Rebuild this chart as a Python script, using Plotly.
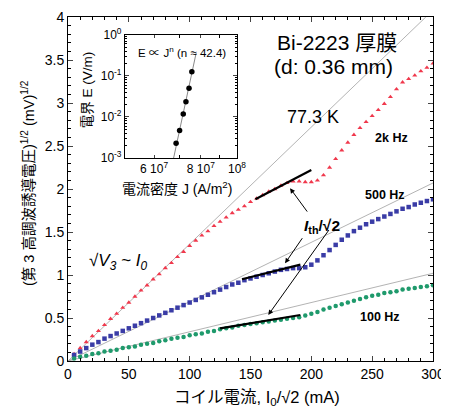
import plotly.graph_objects as go
import numpy as np

# ---------------- data ----------------
current_mA = list(range(5, 305, 5))  # I0/sqrt2 (mA)

v3_2kHz = [0.08, 0.15, 0.22, 0.29, 0.35, 0.42, 0.49, 0.55, 0.62, 0.68,
           0.75, 0.82, 0.88, 0.95, 1.01, 1.08, 1.14, 1.21, 1.27, 1.34,
           1.40, 1.46, 1.51, 1.57, 1.62, 1.67, 1.72, 1.76, 1.80, 1.85,
           1.89, 1.93, 1.97, 2.00, 2.04, 2.07, 2.09, 2.09, 2.08, 2.08,
           2.10, 2.16, 2.25, 2.35, 2.45, 2.54, 2.63, 2.71, 2.78, 2.85,
           2.92, 2.99, 3.07, 3.16, 3.24, 3.28, 3.32, 3.37, 3.41, 3.46]

v3_500Hz = [0.07, 0.11, 0.15, 0.19, 0.22, 0.26, 0.29, 0.32, 0.35, 0.38,
            0.41, 0.44, 0.47, 0.50, 0.53, 0.56, 0.59, 0.62, 0.65, 0.68,
            0.71, 0.74, 0.77, 0.80, 0.83, 0.86, 0.89, 0.91, 0.94, 0.96,
            0.98, 1.00, 1.02, 1.04, 1.06, 1.07, 1.08, 1.08, 1.09, 1.12,
            1.17, 1.23, 1.29, 1.35, 1.41, 1.46, 1.51, 1.55, 1.59, 1.62,
            1.65, 1.68, 1.71, 1.74, 1.77, 1.79, 1.82, 1.84, 1.86, 1.88]

v3_100Hz = [0.03, 0.05, 0.06, 0.08, 0.09, 0.11, 0.12, 0.13, 0.15, 0.16,
            0.17, 0.19, 0.20, 0.21, 0.23, 0.24, 0.26, 0.27, 0.28, 0.30,
            0.31, 0.32, 0.34, 0.35, 0.37, 0.38, 0.39, 0.41, 0.42, 0.43,
            0.44, 0.45, 0.46, 0.47, 0.48, 0.49, 0.50, 0.51, 0.53, 0.55,
            0.57, 0.60, 0.62, 0.64, 0.66, 0.68, 0.70, 0.72, 0.74, 0.76,
            0.77, 0.79, 0.80, 0.81, 0.83, 0.84, 0.85, 0.86, 0.87, 0.88]

# slopes of the thin reference lines  sqrt(V3) ~ I0
ref_slope_2kHz = 0.0136
ref_slope_500Hz = 0.0069
ref_slope_100Hz = 0.0034

# black tangent segments near I_th/sqrt2
tangent_2kHz_I = [154, 200]
tangent_2kHz_V = [1.88, 2.22]
tangent_500Hz_I = [143, 191]
tangent_500Hz_V = [0.95, 1.12]
tangent_100Hz_I = [125, 191]
tangent_100Hz_V = [0.38, 0.535]

# inset E-J data
inset_J = [6.87e7, 7.02e7, 7.18e7, 7.30e7, 7.44e7, 7.57e7]
inset_E = [0.0023, 0.0047, 0.0118, 0.0236, 0.050, 0.126]
n_value = 42.4
fit_E_range = [1e-3, 0.36]

# tick labels
inset_x_tickvals = [6e7, 8e7, 1e8]
inset_x_ticktext = ["6 10<sup>7</sup>", "8 10<sup>7</sup>", "10<sup>8</sup>"]
inset_y_tickvals = [1e-3, 1e-2, 1e-1, 1e0]
inset_y_ticktext = ["10<sup>-3</sup>", "10<sup>-2</sup>", "10<sup>-1</sup>", "10<sup>0</sup>"]

FONT = "Liberation Sans, Arial, Noto Sans CJK JP"
RED = "#f0384c"
BLUE = "#3a3ca6"
GREEN = "#1f9a6c"
GRAY = "#a0a0a0"

fig = go.Figure()

# reference lines
for s in (ref_slope_2kHz, ref_slope_500Hz, ref_slope_100Hz):
    Iend = min(300.0, 4.0 / s)
    fig.add_trace(go.Scatter(x=[0, Iend], y=[0, s * Iend], mode="lines",
                             line=dict(color=GRAY, width=0.8),
                             showlegend=False, hoverinfo="skip"))

# data series
fig.add_trace(go.Scatter(x=current_mA, y=v3_2kHz, mode="markers", name="2k Hz",
                         marker=dict(symbol="triangle-up", size=4.5, color=RED)))
fig.add_trace(go.Scatter(x=current_mA, y=v3_500Hz, mode="markers", name="500 Hz",
                         marker=dict(symbol="square", size=4.5, color=BLUE)))
fig.add_trace(go.Scatter(x=current_mA, y=v3_100Hz, mode="markers", name="100 Hz",
                         marker=dict(symbol="circle", size=4.5, color=GREEN)))

# tangents
for ti, tv in ((tangent_2kHz_I, tangent_2kHz_V), (tangent_500Hz_I, tangent_500Hz_V),
               (tangent_100Hz_I, tangent_100Hz_V)):
    fig.add_trace(go.Scatter(x=ti, y=tv, mode="lines", line=dict(color="black", width=2.2),
                             showlegend=False, hoverinfo="skip"))

# inset
logJ = np.log10(inset_J)
logE = np.log10(inset_E)
mJ, mE = logJ.mean(), logE.mean()
fit_logE = np.log10(fit_E_range)
fit_logJ = mJ + (fit_logE - mE) / n_value
fig.add_trace(go.Scatter(x=10 ** fit_logJ, y=10 ** fit_logE, mode="lines",
                         line=dict(color="#888888", width=1), xaxis="x2", yaxis="y2",
                         showlegend=False, hoverinfo="skip"))
fig.add_trace(go.Scatter(x=inset_J, y=inset_E, mode="markers", xaxis="x2", yaxis="y2",
                         marker=dict(size=5.5, color="black"), showlegend=False))

annotations = []
def txt(x, y, t, size, bold=False, ref="data", **kw):
    d = dict(x=x, y=y, text=("<b>%s</b>" % t) if bold else t, showarrow=False,
             xanchor="center", yanchor="middle",
             font=dict(family=FONT, size=size, color="black"))
    if ref == "paper":
        d.update(xref="paper", yref="paper")
    else:
        d.update(xref="x", yref="y")
    d.update(kw)
    annotations.append(d)

txt(220.8, 3.70, "Bi-2223 厚膜", 21)
txt(218, 3.42, "(d: 0.36 mm)", 21)
txt(201.6, 2.84, "77.3 K", 18)
txt(266, 2.59, "2k Hz", 12.5, bold=True)
txt(260.5, 1.93, "500 Hz", 12.5, bold=True)
txt(256.4, 0.515, "100 Hz", 12.5, bold=True)
txt(41.3, 1.155, "<i>√V<sub>3</sub> ~ I<sub>0</sub></i>", 17)
txt(208.5, 1.56, "<b><i>I</i><sub>th</sub>/√2</b>", 15.5)

# arrows (head, tail)
for (hx, hy, tx, ty) in ((182.5, 2.01, 197.5, 1.72), (178.4, 1.136, 193.4, 1.445),
                         (164.6, 0.535, 215.3, 1.54)):
    annotations.append(dict(x=hx, y=hy, ax=tx, ay=ty, xref="x", yref="y", axref="x", ayref="y",
                            showarrow=True, arrowhead=2, arrowsize=1, arrowwidth=1,
                            arrowcolor="black", text=""))

# inset texts
txt(0.3115, 0.899, "E ∝ J<sup>n</sup> (n ≈ 42.4)", 11.5, ref="paper")
txt(0.052, 0.790, "電界 E (V/m)", 13.5, ref="paper", textangle=-90)
txt(0.298, 0.503, "電流密度 J (A/m<sup>2</sup>)", 14, ref="paper")

# main axis titles
txt(0.518, -0.108, "コイル電流, I<sub>0</sub>/√2 (mA)", 16.5, ref="paper")
txt(-0.110, 0.517, "(第 3 高調波誘導電圧)<sup>1/2</sup> (mV)<sup>1/2</sup>", 14.5,
    ref="paper", textangle=-90)

# page has an 8px body margin; figure sized to fill the rest of the 449x409 window
fig.update_layout(
    width=441, height=401,
    margin=dict(l=60, r=16, t=9, b=48, autoexpand=False),
    paper_bgcolor="white", plot_bgcolor="white",
    showlegend=False,
    font=dict(family=FONT, size=14, color="black"),
    annotations=annotations,
    xaxis=dict(range=[0, 300], dtick=50, ticks="inside", ticklen=5, tickwidth=1,
               showline=True, linecolor="black", linewidth=1, mirror="ticks",
               showgrid=False, zeroline=False, automargin=False,
               minor=dict(dtick=10, ticks="inside", ticklen=3, tickcolor="black"),
               tickfont=dict(size=14)),
    yaxis=dict(range=[0, 4], dtick=0.5, ticks="inside", ticklen=5, tickwidth=1,
               showline=True, linecolor="black", linewidth=1, mirror="ticks",
               showgrid=False, zeroline=False, automargin=False,
               minor=dict(dtick=0.1, ticks="inside", ticklen=3, tickcolor="black"),
               tickfont=dict(size=14)),
    xaxis2=dict(type="log", domain=[0.156, 0.463], anchor="y2", range=[7.70, 8.0],
                tickvals=inset_x_tickvals, ticktext=inset_x_ticktext,
                ticks="inside", ticklen=3, showline=True, linecolor="black", linewidth=1,
                mirror="ticks", showgrid=False, zeroline=False, tickfont=dict(size=12),
                automargin=False,
                minor=dict(tickmode="array", tickvals=[7e7, 9e7], ticks="inside", ticklen=3,
                           tickcolor="black")),
    yaxis2=dict(type="log", domain=[0.590, 0.948], anchor="x2", range=[-3, 0],
                tickvals=inset_y_tickvals, ticktext=inset_y_ticktext,
                ticks="inside", ticklen=4, showline=True, linecolor="black", linewidth=1,
                mirror="ticks", showgrid=False, zeroline=False, tickfont=dict(size=12),
                automargin=False,
                minor=dict(tickmode="array",
                           tickvals=[m * 10.0 ** k for k in (-3, -2, -1) for m in range(2, 10)],
                           ticks="inside", ticklen=2, tickcolor="black")),
)

fig.write_html("out.html")
